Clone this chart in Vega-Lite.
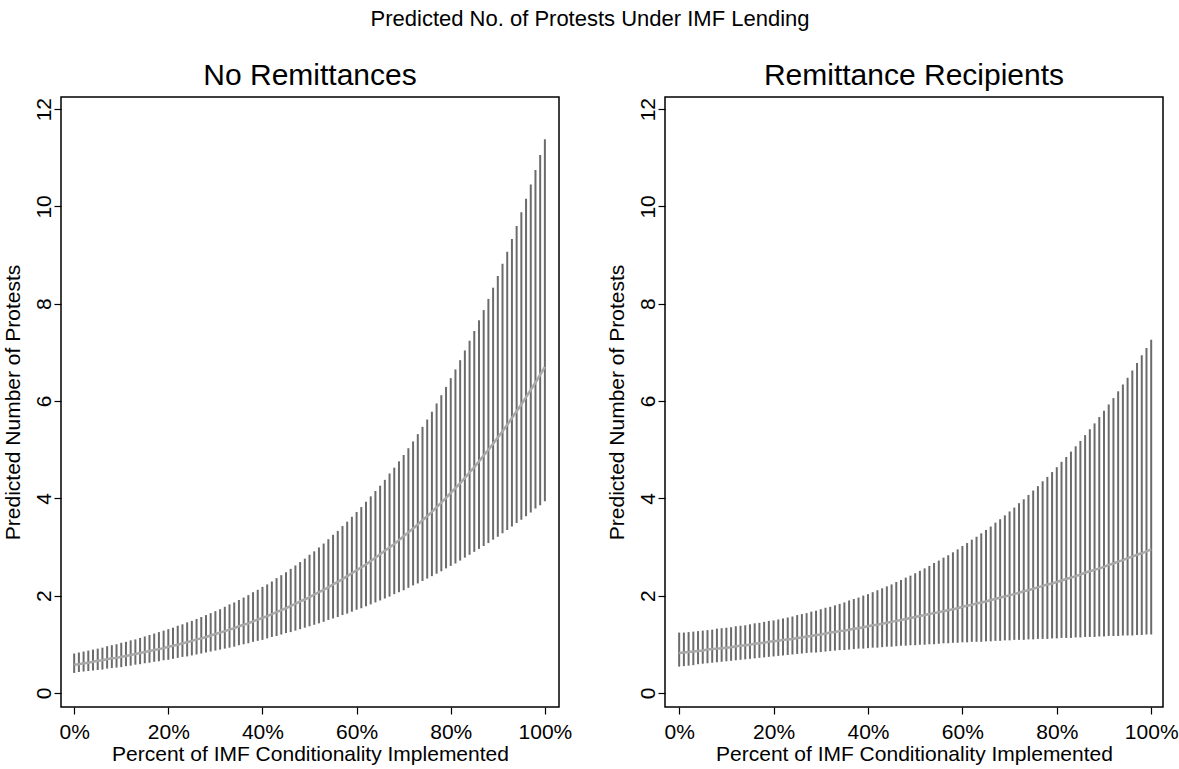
{
"$schema": "https://vega.github.io/schema/vega-lite/v6.json",
"background": "white",
"padding": {"left": 1, "top": 8, "right": 1, "bottom": 2},
"config": {
  "font": "Liberation Sans",
  "view": {"stroke": "#000", "strokeWidth": 1.5},
  "axis": {"domain": false, "grid": false, "tickColor": "#000", "tickWidth": 1.2, "tickSize": 7, "labelColor": "#000", "titleColor": "#000", "labelFontSize": 21, "titleFontSize": 21, "titleFontWeight": "normal", "labelFont": "Liberation Sans", "titleFont": "Liberation Sans"},
  "title": {"fontWeight": "normal", "color": "#000", "font": "Liberation Sans"}
},
"title": {"text": "Predicted No. of Protests Under IMF Lending", "fontSize": 22, "anchor": "middle", "offset": 29},
"bounds": "flush",
"spacing": 106,
"datasets": {
"left": [
{"x":0,"lo":0.41,"hi":0.81,"m":0.58},{"x":1,"lo":0.43,"hi":0.83,"m":0.59},{"x":2,"lo":0.44,"hi":0.85,"m":0.61},{"x":3,"lo":0.45,"hi":0.87,"m":0.62},{"x":4,"lo":0.46,"hi":0.89,"m":0.64},{"x":5,"lo":0.47,"hi":0.91,"m":0.66},{"x":6,"lo":0.48,"hi":0.93,"m":0.67},{"x":7,"lo":0.50,"hi":0.96,"m":0.69},{"x":8,"lo":0.51,"hi":0.98,"m":0.71},{"x":9,"lo":0.52,"hi":1.00,"m":0.72},
{"x":10,"lo":0.53,"hi":1.03,"m":0.74},{"x":11,"lo":0.55,"hi":1.05,"m":0.76},{"x":12,"lo":0.56,"hi":1.08,"m":0.78},{"x":13,"lo":0.58,"hi":1.10,"m":0.80},{"x":14,"lo":0.59,"hi":1.13,"m":0.82},{"x":15,"lo":0.61,"hi":1.16,"m":0.84},{"x":16,"lo":0.62,"hi":1.19,"m":0.86},{"x":17,"lo":0.64,"hi":1.22,"m":0.88},{"x":18,"lo":0.65,"hi":1.25,"m":0.90},{"x":19,"lo":0.67,"hi":1.28,"m":0.92},
{"x":20,"lo":0.68,"hi":1.31,"m":0.95},{"x":21,"lo":0.70,"hi":1.34,"m":0.97},{"x":22,"lo":0.72,"hi":1.38,"m":0.99},{"x":23,"lo":0.74,"hi":1.41,"m":1.02},{"x":24,"lo":0.75,"hi":1.45,"m":1.04},{"x":25,"lo":0.77,"hi":1.48,"m":1.07},{"x":26,"lo":0.79,"hi":1.52,"m":1.10},{"x":27,"lo":0.81,"hi":1.56,"m":1.12},{"x":28,"lo":0.83,"hi":1.60,"m":1.15},{"x":29,"lo":0.85,"hi":1.64,"m":1.18},
{"x":30,"lo":0.87,"hi":1.68,"m":1.21},{"x":31,"lo":0.89,"hi":1.72,"m":1.24},{"x":32,"lo":0.91,"hi":1.77,"m":1.27},{"x":33,"lo":0.93,"hi":1.82,"m":1.30},{"x":34,"lo":0.95,"hi":1.86,"m":1.33},{"x":35,"lo":0.98,"hi":1.91,"m":1.37},{"x":36,"lo":1.00,"hi":1.96,"m":1.40},{"x":37,"lo":1.02,"hi":2.01,"m":1.43},{"x":38,"lo":1.05,"hi":2.07,"m":1.47},{"x":39,"lo":1.07,"hi":2.12,"m":1.51},
{"x":40,"lo":1.09,"hi":2.18,"m":1.54},{"x":41,"lo":1.12,"hi":2.23,"m":1.58},{"x":42,"lo":1.15,"hi":2.29,"m":1.62},{"x":43,"lo":1.17,"hi":2.36,"m":1.66},{"x":44,"lo":1.20,"hi":2.42,"m":1.70},{"x":45,"lo":1.23,"hi":2.48,"m":1.74},{"x":46,"lo":1.25,"hi":2.55,"m":1.79},{"x":47,"lo":1.28,"hi":2.62,"m":1.83},{"x":48,"lo":1.31,"hi":2.69,"m":1.88},{"x":49,"lo":1.34,"hi":2.76,"m":1.92},
{"x":50,"lo":1.37,"hi":2.84,"m":1.97},{"x":51,"lo":1.40,"hi":2.91,"m":2.02},{"x":52,"lo":1.43,"hi":2.99,"m":2.07},{"x":53,"lo":1.46,"hi":3.07,"m":2.12},{"x":54,"lo":1.50,"hi":3.16,"m":2.17},{"x":55,"lo":1.53,"hi":3.25,"m":2.23},{"x":56,"lo":1.56,"hi":3.33,"m":2.28},{"x":57,"lo":1.60,"hi":3.43,"m":2.34},{"x":58,"lo":1.63,"hi":3.52,"m":2.40},{"x":59,"lo":1.67,"hi":3.62,"m":2.46},
{"x":60,"lo":1.71,"hi":3.72,"m":2.52},{"x":61,"lo":1.74,"hi":3.82,"m":2.58},{"x":62,"lo":1.78,"hi":3.93,"m":2.64},{"x":63,"lo":1.82,"hi":4.04,"m":2.71},{"x":64,"lo":1.86,"hi":4.15,"m":2.78},{"x":65,"lo":1.90,"hi":4.26,"m":2.85},{"x":66,"lo":1.94,"hi":4.38,"m":2.92},{"x":67,"lo":1.98,"hi":4.51,"m":2.99},{"x":68,"lo":2.03,"hi":4.63,"m":3.06},{"x":69,"lo":2.07,"hi":4.76,"m":3.14},
{"x":70,"lo":2.11,"hi":4.89,"m":3.22},{"x":71,"lo":2.16,"hi":5.03,"m":3.30},{"x":72,"lo":2.21,"hi":5.17,"m":3.38},{"x":73,"lo":2.25,"hi":5.32,"m":3.46},{"x":74,"lo":2.30,"hi":5.47,"m":3.55},{"x":75,"lo":2.35,"hi":5.62,"m":3.63},{"x":76,"lo":2.40,"hi":5.78,"m":3.72},{"x":77,"lo":2.45,"hi":5.95,"m":3.82},{"x":78,"lo":2.50,"hi":6.12,"m":3.91},{"x":79,"lo":2.56,"hi":6.29,"m":4.01},
{"x":80,"lo":2.61,"hi":6.47,"m":4.11},{"x":81,"lo":2.66,"hi":6.65,"m":4.21},{"x":82,"lo":2.72,"hi":6.84,"m":4.31},{"x":83,"lo":2.78,"hi":7.04,"m":4.42},{"x":84,"lo":2.84,"hi":7.24,"m":4.53},{"x":85,"lo":2.90,"hi":7.44,"m":4.64},{"x":86,"lo":2.96,"hi":7.66,"m":4.76},{"x":87,"lo":3.02,"hi":7.87,"m":4.88},{"x":88,"lo":3.08,"hi":8.10,"m":5.00},{"x":89,"lo":3.15,"hi":8.33,"m":5.12},
{"x":90,"lo":3.21,"hi":8.57,"m":5.25},{"x":91,"lo":3.28,"hi":8.82,"m":5.38},{"x":92,"lo":3.35,"hi":9.07,"m":5.51},{"x":93,"lo":3.42,"hi":9.33,"m":5.65},{"x":94,"lo":3.49,"hi":9.60,"m":5.79},{"x":95,"lo":3.56,"hi":9.88,"m":5.93},{"x":96,"lo":3.63,"hi":10.16,"m":6.08},{"x":97,"lo":3.71,"hi":10.45,"m":6.23},{"x":98,"lo":3.79,"hi":10.75,"m":6.38},{"x":99,"lo":3.86,"hi":11.06,"m":6.54},
{"x":100,"lo":3.94,"hi":11.38,"m":6.70}
],
"right": [
{"x":0,"lo":0.54,"hi":1.24,"m":0.82},{"x":1,"lo":0.55,"hi":1.24,"m":0.83},{"x":2,"lo":0.56,"hi":1.25,"m":0.84},{"x":3,"lo":0.57,"hi":1.26,"m":0.85},{"x":4,"lo":0.59,"hi":1.27,"m":0.86},{"x":5,"lo":0.60,"hi":1.28,"m":0.87},{"x":6,"lo":0.61,"hi":1.29,"m":0.89},{"x":7,"lo":0.62,"hi":1.30,"m":0.90},{"x":8,"lo":0.63,"hi":1.32,"m":0.91},{"x":9,"lo":0.64,"hi":1.33,"m":0.92},
{"x":10,"lo":0.65,"hi":1.34,"m":0.93},{"x":11,"lo":0.66,"hi":1.35,"m":0.94},{"x":12,"lo":0.67,"hi":1.37,"m":0.96},{"x":13,"lo":0.68,"hi":1.38,"m":0.97},{"x":14,"lo":0.69,"hi":1.39,"m":0.98},{"x":15,"lo":0.70,"hi":1.41,"m":0.99},{"x":16,"lo":0.71,"hi":1.43,"m":1.01},{"x":17,"lo":0.72,"hi":1.44,"m":1.02},{"x":18,"lo":0.73,"hi":1.46,"m":1.03},{"x":19,"lo":0.74,"hi":1.48,"m":1.05},
{"x":20,"lo":0.75,"hi":1.49,"m":1.06},{"x":21,"lo":0.76,"hi":1.51,"m":1.07},{"x":22,"lo":0.77,"hi":1.53,"m":1.09},{"x":23,"lo":0.78,"hi":1.55,"m":1.10},{"x":24,"lo":0.79,"hi":1.57,"m":1.11},{"x":25,"lo":0.80,"hi":1.60,"m":1.13},{"x":26,"lo":0.81,"hi":1.62,"m":1.14},{"x":27,"lo":0.82,"hi":1.64,"m":1.16},{"x":28,"lo":0.83,"hi":1.67,"m":1.17},{"x":29,"lo":0.83,"hi":1.69,"m":1.19},
{"x":30,"lo":0.84,"hi":1.72,"m":1.20},{"x":31,"lo":0.85,"hi":1.75,"m":1.22},{"x":32,"lo":0.86,"hi":1.77,"m":1.24},{"x":33,"lo":0.87,"hi":1.80,"m":1.25},{"x":34,"lo":0.88,"hi":1.83,"m":1.27},{"x":35,"lo":0.88,"hi":1.86,"m":1.28},{"x":36,"lo":0.89,"hi":1.90,"m":1.30},{"x":37,"lo":0.90,"hi":1.93,"m":1.32},{"x":38,"lo":0.91,"hi":1.96,"m":1.33},{"x":39,"lo":0.91,"hi":2.00,"m":1.35},
{"x":40,"lo":0.92,"hi":2.03,"m":1.37},{"x":41,"lo":0.93,"hi":2.07,"m":1.39},{"x":42,"lo":0.93,"hi":2.11,"m":1.40},{"x":43,"lo":0.94,"hi":2.15,"m":1.42},{"x":44,"lo":0.95,"hi":2.19,"m":1.44},{"x":45,"lo":0.95,"hi":2.23,"m":1.46},{"x":46,"lo":0.96,"hi":2.28,"m":1.48},{"x":47,"lo":0.97,"hi":2.32,"m":1.50},{"x":48,"lo":0.97,"hi":2.37,"m":1.52},{"x":49,"lo":0.98,"hi":2.41,"m":1.54},
{"x":50,"lo":0.98,"hi":2.46,"m":1.56},{"x":51,"lo":0.99,"hi":2.51,"m":1.58},{"x":52,"lo":0.99,"hi":2.56,"m":1.60},{"x":53,"lo":1.00,"hi":2.61,"m":1.62},{"x":54,"lo":1.00,"hi":2.67,"m":1.64},{"x":55,"lo":1.01,"hi":2.72,"m":1.66},{"x":56,"lo":1.02,"hi":2.78,"m":1.68},{"x":57,"lo":1.02,"hi":2.83,"m":1.70},{"x":58,"lo":1.03,"hi":2.89,"m":1.72},{"x":59,"lo":1.03,"hi":2.95,"m":1.74},
{"x":60,"lo":1.04,"hi":3.02,"m":1.77},{"x":61,"lo":1.04,"hi":3.08,"m":1.79},{"x":62,"lo":1.05,"hi":3.15,"m":1.81},{"x":63,"lo":1.05,"hi":3.21,"m":1.84},{"x":64,"lo":1.05,"hi":3.28,"m":1.86},{"x":65,"lo":1.06,"hi":3.35,"m":1.88},{"x":66,"lo":1.06,"hi":3.42,"m":1.91},{"x":67,"lo":1.07,"hi":3.50,"m":1.93},{"x":68,"lo":1.07,"hi":3.57,"m":1.96},{"x":69,"lo":1.08,"hi":3.65,"m":1.98},
{"x":70,"lo":1.08,"hi":3.73,"m":2.01},{"x":71,"lo":1.09,"hi":3.81,"m":2.03},{"x":72,"lo":1.09,"hi":3.90,"m":2.06},{"x":73,"lo":1.09,"hi":3.98,"m":2.09},{"x":74,"lo":1.10,"hi":4.07,"m":2.11},{"x":75,"lo":1.10,"hi":4.16,"m":2.14},{"x":76,"lo":1.11,"hi":4.25,"m":2.17},{"x":77,"lo":1.11,"hi":4.35,"m":2.20},{"x":78,"lo":1.11,"hi":4.44,"m":2.23},{"x":79,"lo":1.12,"hi":4.54,"m":2.25},
{"x":80,"lo":1.12,"hi":4.64,"m":2.28},{"x":81,"lo":1.13,"hi":4.75,"m":2.31},{"x":82,"lo":1.13,"hi":4.85,"m":2.34},{"x":83,"lo":1.13,"hi":4.96,"m":2.37},{"x":84,"lo":1.14,"hi":5.07,"m":2.40},{"x":85,"lo":1.14,"hi":5.18,"m":2.43},{"x":86,"lo":1.15,"hi":5.30,"m":2.47},{"x":87,"lo":1.15,"hi":5.42,"m":2.50},{"x":88,"lo":1.15,"hi":5.54,"m":2.53},{"x":89,"lo":1.16,"hi":5.67,"m":2.56},
{"x":90,"lo":1.16,"hi":5.80,"m":2.59},{"x":91,"lo":1.17,"hi":5.93,"m":2.63},{"x":92,"lo":1.17,"hi":6.06,"m":2.66},{"x":93,"lo":1.17,"hi":6.20,"m":2.70},{"x":94,"lo":1.18,"hi":6.34,"m":2.73},{"x":95,"lo":1.18,"hi":6.48,"m":2.77},{"x":96,"lo":1.18,"hi":6.63,"m":2.80},{"x":97,"lo":1.19,"hi":6.78,"m":2.84},{"x":98,"lo":1.19,"hi":6.94,"m":2.87},{"x":99,"lo":1.20,"hi":7.09,"m":2.91},
{"x":100,"lo":1.20,"hi":7.26,"m":2.95}
]
},
"hconcat": [
{
  "width": 498, "height": 610,
  "title": {"text": "No Remittances", "fontSize": 30, "offset": 6},
  "data": {"name": "left"},
  "layer": [
    {"mark": {"type": "rule", "color": "#6b6b6b", "strokeWidth": 2},
     "encoding": {
       "x": {"field": "x", "type": "quantitative", "scale": {"domain": [-2.8, 103], "nice": false, "zero": false},
             "axis": {"values": [0, 20, 40, 60, 80, 100], "labelExpr": "datum.value + '%'", "title": "Percent of IMF Conditionality Implemented", "labelPadding": 7, "titlePadding": 1, "labelFlush": false}},
       "y": {"field": "lo", "type": "quantitative", "scale": {"domain": [-0.29, 12.25], "nice": false, "zero": false},
             "axis": {"values": [0, 2, 4, 6, 8, 10, 12], "labelAngle": -90, "labelAlign": "center", "labelBaseline": "bottom", "labelPadding": 0, "title": "Predicted Number of Protests", "titlePadding": 10, "labelFlush": false}},
       "y2": {"field": "hi"}
     }},
    {"mark": {"type": "line", "color": "#a9a9a9", "strokeWidth": 2.5},
     "encoding": {
       "x": {"field": "x", "type": "quantitative"},
       "y": {"field": "m", "type": "quantitative"}
     }}
  ]
},
{
  "width": 498, "height": 610,
  "title": {"text": "Remittance Recipients", "fontSize": 30, "offset": 6},
  "data": {"name": "right"},
  "layer": [
    {"mark": {"type": "rule", "color": "#6b6b6b", "strokeWidth": 2},
     "encoding": {
       "x": {"field": "x", "type": "quantitative", "scale": {"domain": [-3.0, 102.5], "nice": false, "zero": false},
             "axis": {"values": [0, 20, 40, 60, 80, 100], "labelExpr": "datum.value + '%'", "title": "Percent of IMF Conditionality Implemented", "labelPadding": 7, "titlePadding": 1, "labelFlush": false}},
       "y": {"field": "lo", "type": "quantitative", "scale": {"domain": [-0.29, 12.25], "nice": false, "zero": false},
             "axis": {"values": [0, 2, 4, 6, 8, 10, 12], "labelAngle": -90, "labelAlign": "center", "labelBaseline": "bottom", "labelPadding": 0, "title": "Predicted Number of Protests", "titlePadding": 10, "labelFlush": false}},
       "y2": {"field": "hi"}
     }},
    {"mark": {"type": "line", "color": "#a9a9a9", "strokeWidth": 2.5},
     "encoding": {
       "x": {"field": "x", "type": "quantitative"},
       "y": {"field": "m", "type": "quantitative"}
     }}
  ]
}
]
}
